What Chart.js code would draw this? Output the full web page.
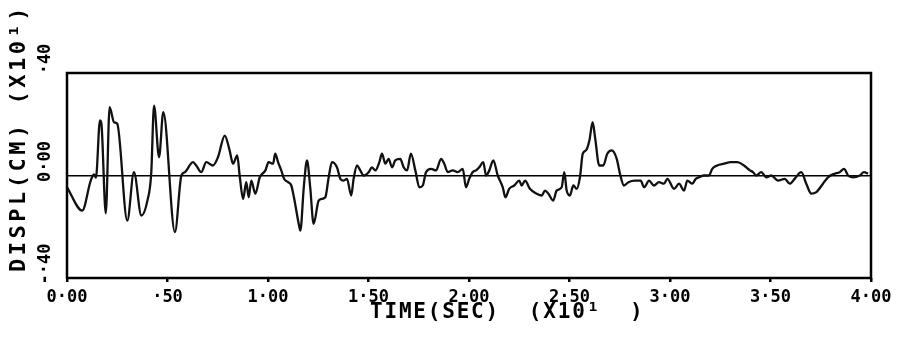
<!DOCTYPE html>
<html>
<head>
<meta charset="utf-8">
<script src="https://cdn.jsdelivr.net/npm/chart.js@4/dist/chart.umd.min.js"></script>
<style>
  html, body { margin: 0; padding: 0; background: #fff; }
</style>
</head>
<body>
<canvas id="displChart" width="907" height="337"></canvas>
<script>
// time in units of 10 s, displacement in units of 10 cm (as printed on the axes)
const timeValues = [
  0.000, 0.076, 0.118, 0.134, 0.144, 0.164, 0.171, 0.193, 0.212, 0.234,
  0.250, 0.300, 0.333, 0.370, 0.400, 0.419, 0.433, 0.458, 0.479, 0.537,
  0.569, 0.586, 0.627, 0.643, 0.668, 0.693, 0.726, 0.751, 0.785, 0.809,
  0.826, 0.847, 0.859, 0.876, 0.892, 0.904, 0.917, 0.937, 0.959, 0.987,
  1.003, 1.025, 1.036, 1.050, 1.066, 1.080, 1.100, 1.116, 1.129, 1.153,
  1.161, 1.178, 1.194, 1.210, 1.227, 1.252, 1.269, 1.285, 1.302, 1.318,
  1.343, 1.360, 1.377, 1.393, 1.414, 1.426, 1.443, 1.459, 1.476, 1.501,
  1.517, 1.534, 1.554, 1.567, 1.584, 1.600, 1.617, 1.633, 1.658, 1.675,
  1.692, 1.711, 1.733, 1.753, 1.770, 1.786, 1.811, 1.836, 1.861, 1.877,
  1.894, 1.919, 1.944, 1.969, 1.985, 2.001, 2.018, 2.035, 2.051, 2.071,
  2.085, 2.101, 2.121, 2.143, 2.168, 2.181, 2.200, 2.225, 2.250, 2.262,
  2.279, 2.303, 2.337, 2.362, 2.378, 2.395, 2.419, 2.436, 2.461, 2.474,
  2.486, 2.502, 2.519, 2.536, 2.552, 2.566, 2.582, 2.599, 2.615, 2.627,
  2.648, 2.668, 2.688, 2.710, 2.735, 2.751, 2.771, 2.793, 2.826, 2.854,
  2.871, 2.896, 2.920, 2.945, 2.970, 2.987, 3.020, 3.045, 3.070, 3.086,
  3.111, 3.128, 3.144, 3.169, 3.194, 3.210, 3.235, 3.269, 3.302, 3.335,
  3.368, 3.398, 3.413, 3.429, 3.454, 3.479, 3.504, 3.537, 3.571, 3.596,
  3.620, 3.653, 3.678, 3.703, 3.728, 3.761, 3.786, 3.819, 3.844, 3.866,
  3.886, 3.910, 3.944, 3.965, 3.985
];
const displValues = [
  -0.046, -0.137, -0.020, 0.004, -0.008, 0.215, 0.203, -0.148, 0.267, 0.208,
  0.202, -0.176, 0.013, -0.156, -0.098, 0.008, 0.273, 0.071, 0.247, -0.221,
  0.000, 0.013, 0.052, 0.039, 0.013, 0.052, 0.039, 0.071, 0.156, 0.098,
  0.046, 0.078, 0.000, -0.091, -0.026, -0.085, -0.020, -0.071, -0.007, 0.020,
  0.052, 0.046, 0.085, 0.052, 0.020, -0.013, -0.026, -0.039, -0.085, -0.189,
  -0.215, -0.046, 0.059, -0.046, -0.189, -0.098, -0.091, -0.085, -0.007, 0.052,
  0.032, -0.013, -0.020, -0.013, -0.078, -0.013, 0.039, 0.020, 0.000, 0.013,
  0.032, 0.020, 0.052, 0.085, 0.046, 0.065, 0.032, 0.059, 0.065, 0.032,
  0.020, 0.085, 0.020, -0.046, -0.039, 0.013, 0.026, 0.020, 0.065, 0.046,
  0.013, 0.020, 0.013, 0.026, -0.046, -0.013, 0.013, 0.020, 0.032, 0.052,
  0.000, 0.020, 0.059, 0.000, -0.046, -0.085, -0.052, -0.039, -0.020, -0.039,
  -0.020, -0.052, -0.071, -0.078, -0.059, -0.071, -0.098, -0.059, -0.046, 0.013,
  -0.059, -0.078, -0.039, -0.052, -0.007, 0.085, 0.098, 0.137, 0.208, 0.150,
  0.039, 0.039, 0.085, 0.098, 0.065, 0.007, -0.039, -0.026, -0.020, -0.020,
  -0.046, -0.020, -0.039, -0.026, -0.032, -0.013, -0.052, -0.032, -0.059, -0.020,
  -0.032, -0.013, -0.007, 0.000, 0.000, 0.026, 0.039, 0.046, 0.052, 0.052,
  0.039, 0.020, 0.013, 0.000, 0.013, -0.007, 0.000, -0.020, -0.013, -0.032,
  -0.013, 0.013, -0.032, -0.071, -0.065, -0.032, -0.007, 0.007, 0.013, 0.026,
  0.000, -0.007, 0.000, 0.013, 0.007
];

const xTickValues = [0, 0.5, 1, 1.5, 2, 2.5, 3, 3.5, 4];
const xTickLabels = ['0·00', '·50', '1·00', '1·50', '2·00', '2·50', '3·00', '3·50', '4·00'];
const yTickValues = [-0.4, 0, 0.4];
const yTickLabels = ['-·40', '0·00', '·40'];
const xTitle = 'TIME(SEC)  (X10¹  )';
const yTitle = 'DISPL(CM) (X10¹)';

const plotterFont = '"DejaVu Sans Mono", "Liberation Mono", monospace';

// box around the plot + the two axis titles in the old plotter placement
const frameAndTitles = {
  id: 'frameAndTitles',
  afterDraw(chart) {
    const { ctx, chartArea } = chart;
    ctx.save();
    ctx.strokeStyle = '#000';
    ctx.lineWidth = 2.5;
    ctx.strokeRect(chartArea.left, chartArea.top,
      chartArea.right - chartArea.left, chartArea.bottom - chartArea.top);

    ctx.fillStyle = '#000';
    ctx.textBaseline = 'middle';
    ctx.textAlign = 'left';
    ctx.font = 'bold 21px ' + plotterFont;
    ctx.letterSpacing = '1.8px';
    ctx.fillText(xTitle, 370, 313);

    ctx.font = 'bold 22px ' + plotterFont;
    ctx.letterSpacing = '3.5px';
    ctx.translate(19, 272);
    ctx.rotate(-Math.PI / 2);
    ctx.fillText(yTitle, 0, 0);
    ctx.restore();
  }
};

const points = timeValues.map((t, i) => ({ x: t, y: displValues[i] }));

new Chart(document.getElementById('displChart'), {
  type: 'line',
  data: {
    datasets: [{
      data: points,
      borderColor: '#111',
      borderWidth: 2.3,
      pointRadius: 0,
      cubicInterpolationMode: 'monotone',
      fill: false
    }]
  },
  options: {
    responsive: false,
    animation: false,
    layout: { padding: { top: 73, right: 36, bottom: 0, left: 0 } },
    plugins: { legend: { display: false }, tooltip: { enabled: false } },
    scales: {
      x: {
        type: 'linear',
        min: 0,
        max: 4,
        afterBuildTicks: scale => { scale.ticks = xTickValues.map(v => ({ value: v })); },
        afterFit: scale => { scale.height = 59; },
        border: { display: false },
        grid: { drawOnChartArea: false, drawTicks: true, tickLength: 4, lineWidth: 2.5, color: '#000' },
        ticks: {
          autoSkip: false,
          maxRotation: 0,
          padding: 5,
          color: '#000',
          font: { family: plotterFont, size: 17, weight: 'bold' },
          callback: (value, index) => xTickLabels[index]
        }
      },
      y: {
        min: -0.4,
        max: 0.4,
        afterBuildTicks: scale => { scale.ticks = yTickValues.map(v => ({ value: v })); },
        afterFit: scale => { scale.width = 67; },
        border: { display: false },
        grid: {
          drawTicks: false,
          lineWidth: 1.5,
          color: ctx => (ctx.tick && ctx.tick.value === 0 ? '#000' : 'rgba(0,0,0,0)')
        },
        ticks: {
          minRotation: 90,
          maxRotation: 90,
          crossAlign: 'center',
          labelOffset: -14,
          padding: 1,
          color: '#000',
          font: { family: plotterFont, size: 17, weight: 'bold' },
          callback: (value, index) => yTickLabels[index]
        }
      }
    }
  },
  plugins: [frameAndTitles]
});
</script>
</body>
</html>
